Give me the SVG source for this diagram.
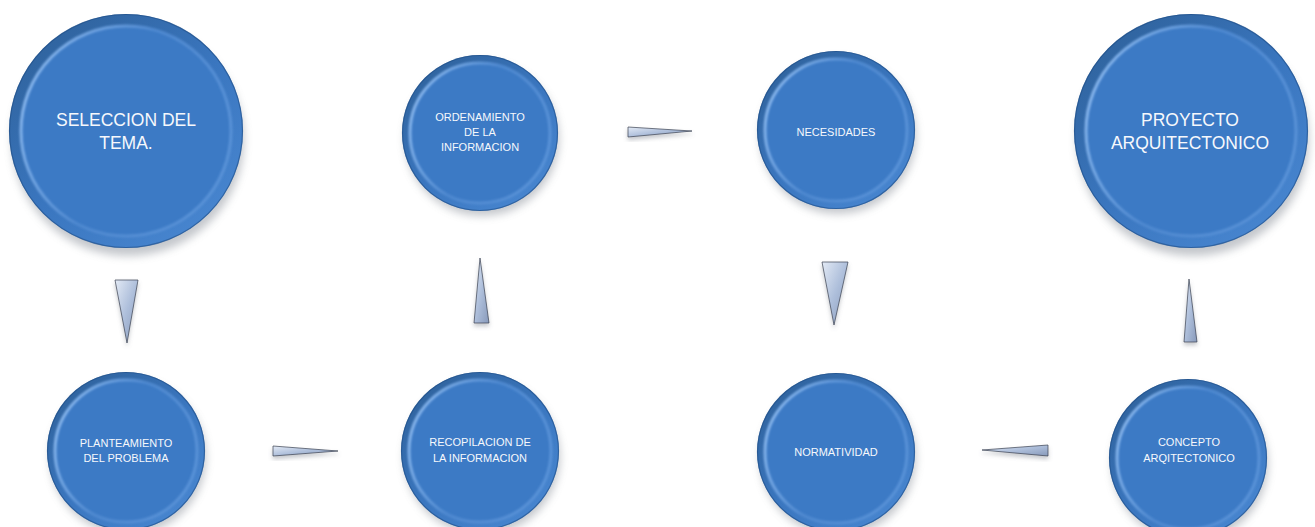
<svg xmlns="http://www.w3.org/2000/svg" width="1315" height="527" viewBox="0 0 1315 527">
<defs>
<style>
.t{font-family:"Liberation Sans",Arial,sans-serif;fill:#f6f8fc;text-anchor:middle}
.big{font-size:17.5px}
.sm{font-size:11px}
.rim{fill:url(#rimG)}
.edge{fill:none;stroke:#1e4c86;stroke-width:1.2;stroke-opacity:0.6}
.face{fill:#3c7ac5}
.bev{fill:none;stroke:url(#bevG);stroke-width:3;filter:url(#soft)}
.sh{fill:#6d7480;opacity:0.4;filter:url(#blur)}
.arr{fill:url(#arrG);stroke:#3a4150;stroke-width:0.7;stroke-linejoin:round;filter:url(#ash)}
</style>
<linearGradient id="rimG" x1="0.15" y1="0.1" x2="0.85" y2="0.95">
<stop offset="0" stop-color="#30649f"/>
<stop offset="0.5" stop-color="#3a76bf"/>
<stop offset="1" stop-color="#4886d0"/>
</linearGradient>
<linearGradient id="bevG" x1="0" y1="0.3" x2="1" y2="0.7">
<stop offset="0" stop-color="#8ab8ee"/>
<stop offset="0.45" stop-color="#4f89d0"/>
<stop offset="1" stop-color="#5a93d8"/>
</linearGradient>
<linearGradient id="arrG" x1="0" y1="0" x2="1" y2="1">
<stop offset="0" stop-color="#e3eaf5"/>
<stop offset="0.5" stop-color="#aebfdb"/>
<stop offset="1" stop-color="#8799ba"/>
</linearGradient>
<filter id="blur" x="-20%" y="-20%" width="140%" height="140%">
<feGaussianBlur stdDeviation="4"/>
</filter>
<filter id="soft" x="-10%" y="-10%" width="120%" height="120%">
<feGaussianBlur stdDeviation="1.2"/>
</filter>
<filter id="ash" x="-50%" y="-50%" width="200%" height="200%">
<feDropShadow dx="0" dy="3" stdDeviation="2" flood-color="#6d7480" flood-opacity="0.4"/>
</filter>
</defs>
<rect width="1315" height="527" fill="#ffffff"/>

<g id="connectors">
<polygon class="arr" points="115,280 138,280 127,343"/>
<polygon class="arr" points="474,323 489,323 480,258"/>
<polygon class="arr" points="628,127 628,137 692,131"/>
<polygon class="arr" points="822,262 848,262 834,325"/>
<polygon class="arr" points="273,446 273,456 338,451"/>
<polygon class="arr" points="1048,445 1048,456 982,450"/>
<polygon class="arr" points="1184,342 1197,342 1189,279"/>
</g>

<g id="n-seleccion">
<ellipse class="sh" cx="128" cy="140" rx="116" ry="116"/>
<circle class="rim" cx="126" cy="131" r="117"/>
<circle class="edge" cx="126" cy="131" r="116.5"/>
<circle class="face" cx="126" cy="131" r="105"/>
<circle class="bev" cx="126" cy="131" r="105"/>
<text class="t big" x="126" y="126">SELECCION DEL</text>
<text class="t big" x="126" y="149">TEMA.</text>
</g>

<g id="n-ordenamiento">
<ellipse class="sh" cx="482" cy="139" rx="77" ry="77"/>
<circle class="rim" cx="480" cy="133" r="78"/>
<circle class="edge" cx="480" cy="133" r="77.5"/>
<circle class="face" cx="480" cy="133" r="70"/>
<circle class="bev" cx="480" cy="133" r="70"/>
<text class="t sm" x="480" y="121">ORDENAMIENTO</text>
<text class="t sm" x="480" y="136">DE LA</text>
<text class="t sm" x="480" y="151">INFORMACION</text>
</g>

<g id="n-necesidades">
<ellipse class="sh" cx="838" cy="136" rx="78" ry="78"/>
<circle class="rim" cx="836" cy="130" r="79"/>
<circle class="edge" cx="836" cy="130" r="78.5"/>
<circle class="face" cx="836" cy="130" r="71"/>
<circle class="bev" cx="836" cy="130" r="71"/>
<text class="t sm" x="836" y="136">NECESIDADES</text>
</g>

<g id="n-proyecto">
<ellipse class="sh" cx="1193" cy="140" rx="116" ry="116"/>
<circle class="rim" cx="1191" cy="131" r="117"/>
<circle class="edge" cx="1191" cy="131" r="116.5"/>
<circle class="face" cx="1191" cy="131" r="105"/>
<circle class="bev" cx="1191" cy="131" r="105"/>
<text class="t big" x="1190" y="126">PROYECTO</text>
<text class="t big" x="1190" y="149">ARQUITECTONICO</text>
</g>

<g id="n-planteamiento">
<ellipse class="sh" cx="128" cy="457" rx="78" ry="78"/>
<circle class="rim" cx="126" cy="451" r="79"/>
<circle class="edge" cx="126" cy="451" r="78.5"/>
<circle class="face" cx="126" cy="451" r="71"/>
<circle class="bev" cx="126" cy="451" r="71"/>
<text class="t sm" x="126" y="447">PLANTEAMIENTO</text>
<text class="t sm" x="126" y="462">DEL PROBLEMA</text>
</g>

<g id="n-recopilacion">
<ellipse class="sh" cx="482" cy="457" rx="78" ry="78"/>
<circle class="rim" cx="480" cy="451" r="79"/>
<circle class="edge" cx="480" cy="451" r="78.5"/>
<circle class="face" cx="480" cy="451" r="71"/>
<circle class="bev" cx="480" cy="451" r="71"/>
<text class="t sm" x="480" y="446">RECOPILACION DE</text>
<text class="t sm" x="480" y="462">LA INFORMACION</text>
</g>

<g id="n-normatividad">
<ellipse class="sh" cx="838" cy="458" rx="78" ry="78"/>
<circle class="rim" cx="836" cy="452" r="79"/>
<circle class="edge" cx="836" cy="452" r="78.5"/>
<circle class="face" cx="836" cy="452" r="71"/>
<circle class="bev" cx="836" cy="452" r="71"/>
<text class="t sm" x="836" y="456">NORMATIVIDAD</text>
</g>

<g id="n-concepto">
<ellipse class="sh" cx="1190" cy="464" rx="78" ry="78"/>
<circle class="rim" cx="1188" cy="458" r="79"/>
<circle class="edge" cx="1188" cy="458" r="78.5"/>
<circle class="face" cx="1188" cy="458" r="71"/>
<circle class="bev" cx="1188" cy="458" r="71"/>
<text class="t sm" x="1189" y="446">CONCEPTO</text>
<text class="t sm" x="1189" y="462">ARQITECTONICO</text>
</g>
</svg>
